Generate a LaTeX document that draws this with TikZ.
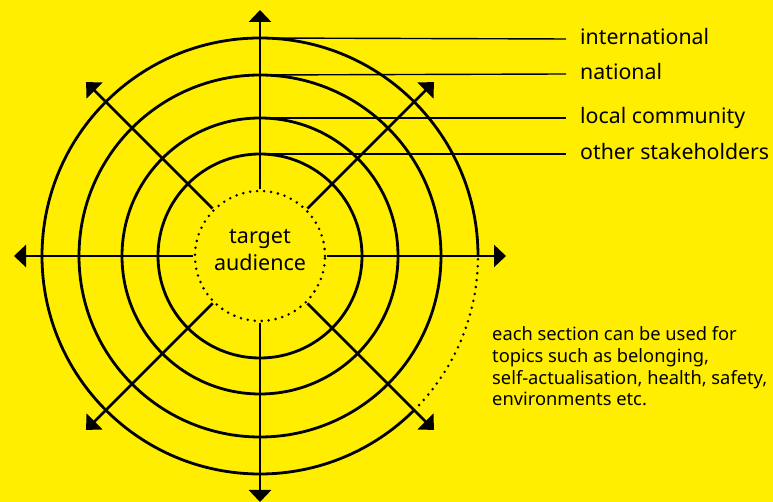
\documentclass[tikz,border=0pt]{standalone}
\usepackage{fontspec}
\setmainfont{Noto Sans}
\usetikzlibrary{arrows.meta}
\definecolor{bgyellow}{HTML}{FFEE00}
\tikzset{
  ring/.style={line width=2.8pt, draw=black},
  spoke/.style={line width=2.8pt, -{Triangle[length=12pt,width=22pt]}},
  dotring/.style={line width=2.8pt, line cap=round, dash pattern=on 0pt off 7pt},
  leader/.style={line width=1.4pt},
  lbl/.style={anchor=base west, inner sep=0pt, font=\fontsize{21.3pt}{26pt}\selectfont},
  noteline/.style={anchor=base west, inner sep=0pt, font=\fontsize{18.3pt}{22pt}\selectfont},
}
\begin{document}
\begin{tikzpicture}[x=1pt,y=1pt]
\fill[bgyellow] (0,0) rectangle (773,502);
\useasboundingbox (0,0) rectangle (773,502);
\coordinate (c) at (260,246);
% rings
\draw[ring] (c) circle[radius=181];
\draw[ring] (c) circle[radius=138];
\draw[ring] (c) circle[radius=102];
\draw[ring] ([shift={(0:218)}]c) arc[start angle=0, end angle=315, radius=218];
\draw[dotring] ([shift={(315:218)}]c) arc[start angle=315, end angle=360, radius=218];
\draw[dotring] (c) circle[radius=65];
% spokes
\foreach \a in {0,45,...,315}{
  \draw[spoke] ([shift={(\a:67)}]c) -- ([shift={(\a:246)}]c);
}
% centre text
\node[align=center, inner sep=0pt, font=\fontsize{21.5pt}{27pt}\selectfont] (ta) at ([yshift=6pt]c) {target\\audience};
% labels
\node[lbl] (l1) at (580,457.7) {international};
\node[lbl] (l2) at (580,422) {national};
\node[lbl] (l3) at (580,378.3) {local community};
\node[lbl] (l4) at (580,342.3) {other stakeholders};
\coordinate (t1) at ([yshift=218]c);
\coordinate (t2) at ([yshift=181]c);
\coordinate (t3) at ([yshift=138]c);
\coordinate (t4) at ([yshift=102]c);
\coordinate (e1) at (566,463);
\coordinate (e2) at (566,428);
\coordinate (e3) at (566,384);
\coordinate (e4) at (566,348);
\draw[leader] (t1) -- (e1);
\draw[leader] (t2) -- (e2);
\draw[leader] (t3) -- (e3);
\draw[leader] (t4) -- (e4);
% note
\node[noteline] (n1) at (492,161) {each section can be used for};
\node[noteline] (n2) at (492,139.3) {topics such as belonging,};
\node[noteline] (n3) at (492,117.6) {self-actualisation, health, safety,};
\node[noteline] (n4) at (492,96) {environments etc.};
\end{tikzpicture}
\end{document}
